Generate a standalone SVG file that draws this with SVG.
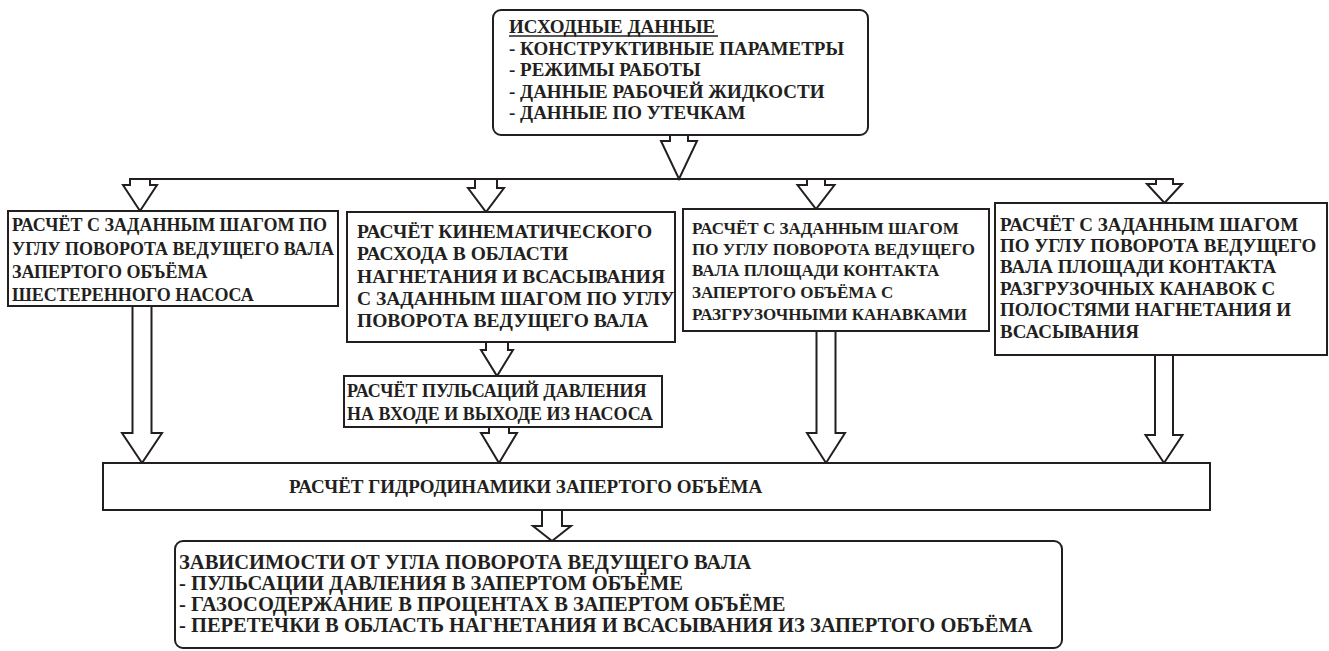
<svg xmlns="http://www.w3.org/2000/svg" width="1329" height="651" viewBox="0 0 1329 651">
<style>
.box{fill:#fff;stroke:#231f20;stroke-width:2}
.arr{fill:#fff;stroke:#231f20;stroke-width:2;stroke-linejoin:miter}
.ln{fill:none;stroke:#231f20;stroke-width:2}
text{font-family:"Liberation Serif","Times New Roman",serif;font-weight:bold;fill:#231f20}
.t19{font-size:19px}
.t18{font-size:18px}
.t17{font-size:17px}
.tk{font-size:19.5px}
.tb{font-size:19px}
.tr{font-size:20.5px}
</style>
<rect width="1329" height="651" fill="#fff"/>
<g id="connectors">
<line class="ln" x1="130" y1="179" x2="1173" y2="179"/>
<polygon class="arr" points="670,135 670,141 661,141 679,179 697,141 688,141 688,135"/>
<polygon class="arr" points="130,179 130,185 123,185 140,211 157,185 150,185 150,179"/>
<polygon class="arr" points="475,179 475,188 468,188 486,212 504,188 497,188 497,179"/>
<polygon class="arr" points="807,179 807,185 797.5,185 816,209 834.5,185 825,185 825,179"/>
<polygon class="arr" points="1156,179 1156,184 1147,184 1164.5,203 1182,184 1173,184 1173,179"/>
<polygon class="arr" points="486,342 486,350 481,350 497,376 513,350 508,350 508,342"/>
<polygon class="arr" points="489,427 489,433 481,433 499,463 517,433 509,433 509,427"/>
<polygon class="arr" points="132.5,306 132.5,433 122,433 142,463 162,433 151.5,433 151.5,306"/>
<polygon class="arr" points="816.5,331 816.5,433 807,433 826,463 845,433 835.5,433 835.5,331"/>
<polygon class="arr" points="1155,355 1155,435 1145.5,435 1164,463 1182.5,435 1173,435 1173,355"/>
<polygon class="arr" points="542,510 542,526 533,526 552,541 571,526 562,526 562,510"/>
</g>
<g id="n_input">
<rect class="box" x="493" y="10" width="375" height="125" rx="8"/>
<text class="t19" x="509" y="33">ИСХОДНЫЕ ДАННЫЕ</text>
<line class="ln" x1="509" y1="36" x2="718" y2="36" style="stroke-width:1.5"/>
<text class="t19" x="509" y="55">- КОНСТРУКТИВНЫЕ ПАРАМЕТРЫ</text>
<text class="t19" x="509" y="76">- РЕЖИМЫ РАБОТЫ</text>
<text class="t19" x="509" y="98">- ДАННЫЕ РАБОЧЕЙ ЖИДКОСТИ</text>
<text class="t19" x="509" y="119">- ДАННЫЕ ПО УТЕЧКАМ</text>
</g>
<g id="n_volume">
<rect class="box" x="8" y="211" width="330" height="95"/>
<text class="t18" x="12" y="231">РАСЧЁТ С ЗАДАННЫМ ШАГОМ ПО</text>
<text class="t18" x="12" y="255">УГЛУ ПОВОРОТА ВЕДУЩЕГО ВАЛА</text>
<text class="t18" x="12" y="278">ЗАПЕРТОГО ОБЪЁМА</text>
<text class="t18" x="12" y="301">ШЕСТЕРЕННОГО НАСОСА</text>
</g>
<g id="n_kinematic">
<rect class="box" x="347" y="212" width="328" height="130"/>
<text class="tk" x="357" y="238">РАСЧЁТ КИНЕМАТИЧЕСКОГО</text>
<text class="tk" x="357" y="260">РАСХОДА В ОБЛАСТИ</text>
<text class="tk" x="357" y="283">НАГНЕТАНИЯ И ВСАСЫВАНИЯ</text>
<text class="tk" x="357" y="305">С ЗАДАННЫМ ШАГОМ ПО УГЛУ</text>
<text class="tk" x="357" y="327">ПОВОРОТА ВЕДУЩЕГО ВАЛА</text>
</g>
<g id="n_pulsation">
<rect class="box" x="344" y="376" width="318" height="51"/>
<text class="t18" x="347" y="397">РАСЧЁТ ПУЛЬСАЦИЙ ДАВЛЕНИЯ</text>
<text class="t18" x="347" y="420">НА ВХОДЕ И ВЫХОДЕ ИЗ НАСОСА</text>
</g>
<g id="n_contact1">
<rect class="box" x="683" y="209" width="306" height="122"/>
<text class="t17" x="692" y="234">РАСЧЁТ С ЗАДАННЫМ ШАГОМ</text>
<text class="t17" x="692" y="255">ПО УГЛУ ПОВОРОТА ВЕДУЩЕГО</text>
<text class="t17" x="692" y="276">ВАЛА ПЛОЩАДИ КОНТАКТА</text>
<text class="t17" x="692" y="298">ЗАПЕРТОГО ОБЪЁМА С</text>
<text class="t17" x="692" y="320">РАЗГРУЗОЧНЫМИ КАНАВКАМИ</text>
</g>
<g id="n_contact2">
<rect class="box" x="995" y="203" width="332" height="152"/>
<text class="t19" x="1000" y="231">РАСЧЁТ С ЗАДАННЫМ ШАГОМ</text>
<text class="t19" x="1000" y="252">ПО УГЛУ ПОВОРОТА ВЕДУЩЕГО</text>
<text class="t19" x="1000" y="273">ВАЛА ПЛОЩАДИ КОНТАКТА</text>
<text class="t19" x="1000" y="295">РАЗГРУЗОЧНЫХ КАНАВОК С</text>
<text class="t19" x="1000" y="316">ПОЛОСТЯМИ НАГНЕТАНИЯ И</text>
<text class="t19" x="1000" y="338">ВСАСЫВАНИЯ</text>
</g>
<g id="n_hydro">
<rect class="box" x="103" y="463" width="1107" height="47"/>
<text class="tb" x="289" y="493">РАСЧЁТ ГИДРОДИНАМИКИ ЗАПЕРТОГО ОБЪЁМА</text>
</g>
<g id="n_result">
<rect class="box" x="175" y="541" width="887" height="107" rx="8"/>
<text class="tr" x="179" y="569">ЗАВИСИМОСТИ ОТ УГЛА ПОВОРОТА ВЕДУЩЕГО ВАЛА</text>
<text class="tr" x="179" y="590">- ПУЛЬСАЦИИ ДАВЛЕНИЯ В ЗАПЕРТОМ ОБЪЁМЕ</text>
<text class="tr" x="179" y="611">- ГАЗОСОДЕРЖАНИЕ В ПРОЦЕНТАХ В ЗАПЕРТОМ ОБЪЁМЕ</text>
<text class="tr" x="179" y="632">- ПЕРЕТЕЧКИ В ОБЛАСТЬ НАГНЕТАНИЯ И ВСАСЫВАНИЯ ИЗ ЗАПЕРТОГО ОБЪЁМА</text>
</g>
</svg>
